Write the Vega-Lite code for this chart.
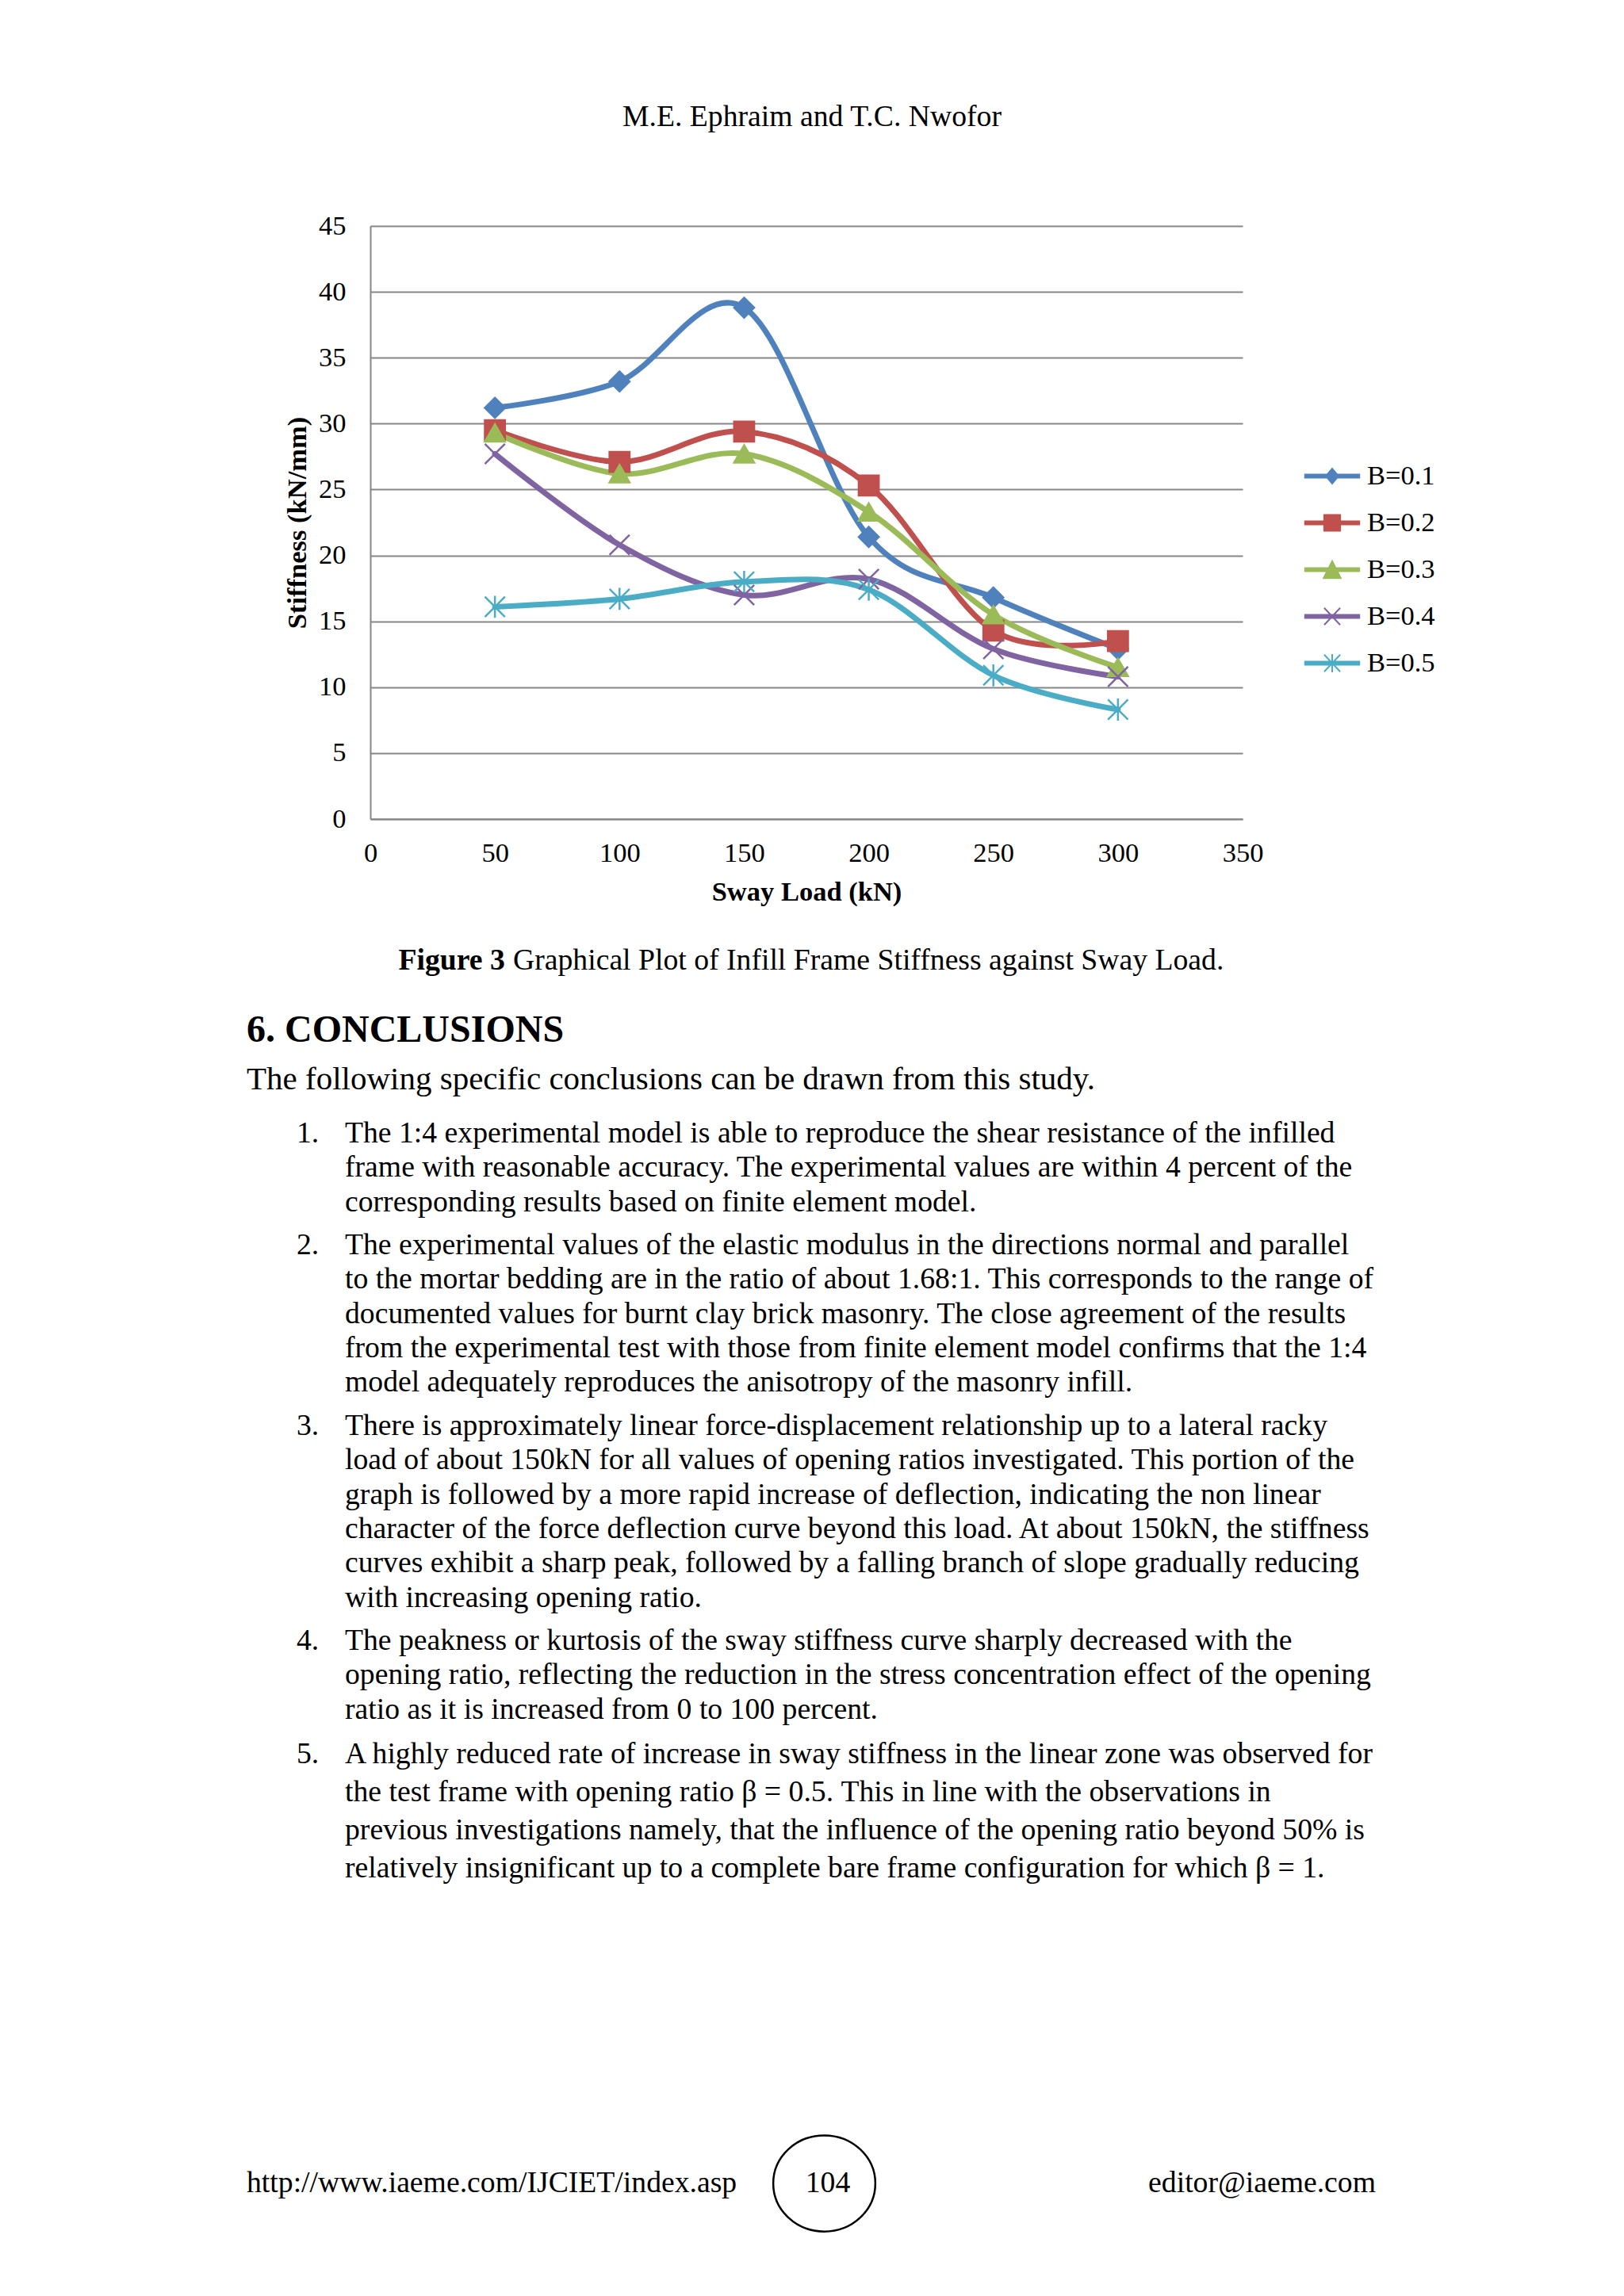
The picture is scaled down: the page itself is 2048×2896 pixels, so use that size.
{
  "$schema": "https://vega.github.io/schema/vega-lite/v6.json",
  "background": "white",
  "padding": {"left": 311, "top": 0, "right": 5, "bottom": 0},
  "bounds": "flush",
  "spacing": 0,
  "config": {
    "view": {"stroke": "transparent"},
    "font": "Liberation Serif",
    "text": {"font": "Liberation Serif", "color": "black"},
    "point": {"filled": true, "size": 640, "strokeWidth": 2.5, "opacity": 1}
  },
  "datasets": {
    "stiffness": [
      {"load": 50, "series": "B=0.1", "stiffness": 31.2},
      {"load": 100, "series": "B=0.1", "stiffness": 33.2},
      {"load": 150, "series": "B=0.1", "stiffness": 38.8},
      {"load": 200, "series": "B=0.1", "stiffness": 21.4},
      {"load": 250, "series": "B=0.1", "stiffness": 16.8},
      {"load": 300, "series": "B=0.1", "stiffness": 12.9},
      {"load": 50, "series": "B=0.2", "stiffness": 29.5},
      {"load": 100, "series": "B=0.2", "stiffness": 27.1},
      {"load": 150, "series": "B=0.2", "stiffness": 29.4},
      {"load": 200, "series": "B=0.2", "stiffness": 25.3},
      {"load": 250, "series": "B=0.2", "stiffness": 14.3},
      {"load": 300, "series": "B=0.2", "stiffness": 13.5},
      {"load": 50, "series": "B=0.3", "stiffness": 29.3},
      {"load": 100, "series": "B=0.3", "stiffness": 26.2},
      {"load": 150, "series": "B=0.3", "stiffness": 27.7},
      {"load": 200, "series": "B=0.3", "stiffness": 23.3},
      {"load": 250, "series": "B=0.3", "stiffness": 15.5},
      {"load": 300, "series": "B=0.3", "stiffness": 11.5},
      {"load": 50, "series": "B=0.4", "stiffness": 27.7},
      {"load": 100, "series": "B=0.4", "stiffness": 20.8},
      {"load": 150, "series": "B=0.4", "stiffness": 17.0},
      {"load": 200, "series": "B=0.4", "stiffness": 18.2},
      {"load": 250, "series": "B=0.4", "stiffness": 12.9},
      {"load": 300, "series": "B=0.4", "stiffness": 10.8},
      {"load": 50, "series": "B=0.5", "stiffness": 16.1},
      {"load": 100, "series": "B=0.5", "stiffness": 16.7},
      {"load": 150, "series": "B=0.5", "stiffness": 18.0},
      {"load": 200, "series": "B=0.5", "stiffness": 17.4},
      {"load": 250, "series": "B=0.5", "stiffness": 10.9},
      {"load": 300, "series": "B=0.5", "stiffness": 8.3}
    ],
    "conclusions": [
      {"item": 1, "line": 1, "num": "1.", "text": "The 1:4 experimental model is able to reproduce the shear resistance of the infilled"},
      {"item": 1, "line": 2, "num": "", "text": "frame with reasonable accuracy. The experimental values are within 4 percent of the"},
      {"item": 1, "line": 3, "num": "", "text": "corresponding results based on finite element model."},
      {"item": 2, "line": 1, "num": "2.", "text": "The experimental values of the elastic modulus in the directions normal and parallel"},
      {"item": 2, "line": 2, "num": "", "text": "to the mortar bedding are in the ratio of about 1.68:1. This corresponds to the range of"},
      {"item": 2, "line": 3, "num": "", "text": "documented values for burnt clay brick masonry. The close agreement of the results"},
      {"item": 2, "line": 4, "num": "", "text": "from the experimental test with those from finite element model confirms that the 1:4"},
      {"item": 2, "line": 5, "num": "", "text": "model adequately reproduces the anisotropy of the masonry infill."},
      {"item": 3, "line": 1, "num": "3.", "text": "There is approximately linear force-displacement relationship up to a lateral racky"},
      {"item": 3, "line": 2, "num": "", "text": "load of about 150kN for all values of opening ratios investigated. This portion of the"},
      {"item": 3, "line": 3, "num": "", "text": "graph is followed by a more rapid increase of deflection, indicating the non linear"},
      {"item": 3, "line": 4, "num": "", "text": "character of the force deflection curve beyond this load. At about 150kN, the stiffness"},
      {"item": 3, "line": 5, "num": "", "text": "curves exhibit a sharp peak, followed by a falling branch of slope gradually reducing"},
      {"item": 3, "line": 6, "num": "", "text": "with increasing opening ratio."},
      {"item": 4, "line": 1, "num": "4.", "text": "The peakness or kurtosis of the sway stiffness curve sharply decreased with the"},
      {"item": 4, "line": 2, "num": "", "text": "opening ratio, reflecting the reduction in the stress concentration effect of the opening"},
      {"item": 4, "line": 3, "num": "", "text": "ratio as it is increased from 0 to 100 percent."},
      {"item": 5, "line": 1, "num": "5.", "text": "A highly reduced rate of increase in sway stiffness in the linear zone was observed for"},
      {"item": 5, "line": 2, "num": "", "text": "the test frame with opening ratio β = 0.5. This in line with the observations in"},
      {"item": 5, "line": 3, "num": "", "text": "previous investigations namely, that the influence of the opening ratio beyond 50% is"},
      {"item": 5, "line": 4, "num": "", "text": "relatively insignificant up to a complete bare frame configuration for which β = 1."}
    ]
  },
  "vconcat": [
    {
      "width": 1114,
      "height": 285,
      "data": {"values": [{"text": "M.E. Ephraim and T.C. Nwofor"}]},
      "mark": {"type": "text", "fontSize": 37.7, "align": "center", "baseline": "middle", "dy": 5.5},
      "encoding": {"text": {"field": "text"}}
    },
    {
      "width": 1100,
      "height": 748,
      "data": {"name": "stiffness"},
      "encoding": {
        "x": {
          "field": "load",
          "type": "quantitative",
          "scale": {"domain": [0, 350], "nice": false},
          "axis": {
            "values": [0, 50, 100, 150, 200, 250, 300, 350],
            "grid": false,
            "ticks": false,
            "domainColor": "#868686",
            "domainWidth": 2,
            "labelFont": "Liberation Serif",
            "labelFontSize": 34.5,
            "labelColor": "black",
            "labelPadding": 26,
            "labelFlush": false,
            "labelOverlap": false,
            "title": "Sway Load (kN)",
            "titleFont": "Liberation Serif",
            "titleFontSize": 34.5,
            "titleFontWeight": "bold",
            "titleColor": "black",
            "titlePadding": 16
          }
        },
        "y": {
          "field": "stiffness",
          "type": "quantitative",
          "scale": {"domain": [0, 45], "nice": false},
          "axis": {
            "values": [0, 5, 10, 15, 20, 25, 30, 35, 40, 45],
            "grid": true,
            "gridColor": "#868686",
            "gridWidth": 2,
            "ticks": false,
            "domainColor": "#868686",
            "domainWidth": 2,
            "labelFont": "Liberation Serif",
            "labelFontSize": 34.5,
            "labelColor": "black",
            "labelPadding": 31,
            "labelFlush": false,
            "labelOverlap": false,
            "title": "Stiffness (kN/mm)",
            "titleFont": "Liberation Serif",
            "titleFontSize": 34.5,
            "titleFontWeight": "bold",
            "titleColor": "black",
            "titlePadding": 9
          }
        },
        "color": {
          "field": "series",
          "type": "nominal",
          "scale": {
            "domain": ["B=0.1", "B=0.2", "B=0.3", "B=0.4", "B=0.5"],
            "range": ["#4F81BD", "#C0504D", "#9BBB59", "#8064A2", "#4BACC6"]
          },
          "legend": {
            "orient": "none",
            "legendX": 1176,
            "legendY": 572,
            "title": null,
            "padding": 0,
            "symbolSize": 5184,
            "symbolStrokeWidth": 2,
            "labelFont": "Liberation Serif",
            "labelFontSize": 34.5,
            "labelColor": "black",
            "labelOffset": 7,
            "clipHeight": 57,
            "rowPadding": 2,
            "encode": {
              "symbols": {
                "update": {
                  "shape": {"signal": "datum.value === 'B=0.1' ? 'M-0.95,-0.055H0.95V0.055H-0.95ZM0,-0.26L0.22,0L0,0.26L-0.22,0Z' : datum.value === 'B=0.2' ? 'M-0.95,-0.055H0.95V0.055H-0.95ZM-0.28,-0.28H0.28V0.28H-0.28Z' : datum.value === 'B=0.3' ? 'M-0.95,-0.055H0.95V0.055H-0.95ZM0,-0.3L0.3,0.3H-0.3Z' : datum.value === 'B=0.4' ? 'M-0.95,-0.055H0.95V0.055H-0.95ZM-0.28,-0.3L0.28,0.3M-0.28,0.3L0.28,-0.3' : 'M-0.95,-0.055H0.95V0.055H-0.95ZM-0.28,-0.3L0.28,0.3M-0.28,0.3L0.28,-0.3M0,-0.32V0.32'"},
                  "fill": {"signal": "scale('color', datum.value)"},
                  "stroke": {"signal": "scale('color', datum.value)"},
                  "strokeWidth": {"value": 2},
                  "opacity": {"value": 1}
                }
              }
            }
          }
        }
      },
      "layer": [
        {
          "mark": {"type": "line", "interpolate": "cardinal", "strokeWidth": 7, "strokeCap": "round", "strokeJoin": "round"}
        },
        {
          "transform": [{"filter": "datum.series === 'B=0.1'"}],
          "mark": {"type": "point", "shape": "diamond", "stroke": "#4F81BD"}
        },
        {
          "transform": [{"filter": "datum.series === 'B=0.2'"}],
          "mark": {"type": "point", "shape": "square", "stroke": "#C0504D"}
        },
        {
          "transform": [{"filter": "datum.series === 'B=0.3'"}],
          "mark": {"type": "point", "shape": "triangle-up", "stroke": "#9BBB59"}
        },
        {
          "transform": [{"filter": "datum.series === 'B=0.4'"}],
          "mark": {"type": "point", "shape": "M-1,-1L1,1M-1,1L1,-1", "stroke": "#8064A2"}
        },
        {
          "transform": [{"filter": "datum.series === 'B=0.5'"}],
          "mark": {"type": "point", "shape": "M-1,-1L1,1M-1,1L1,-1M0,-1.1V1.1", "stroke": "#4BACC6"}
        }
      ]
    },
    {
      "width": 1114,
      "height": 223,
      "data": {"values": [{"label": "Figure 3", "caption": "Graphical Plot of Infill Frame Stiffness against Sway Load."}]},
      "layer": [
        {
          "mark": {"type": "text", "fontSize": 37.7, "fontWeight": "bold", "align": "left", "baseline": "middle", "dx": -521.5, "dy": 67.5},
          "encoding": {"text": {"field": "label"}}
        },
        {
          "mark": {"type": "text", "fontSize": 37.7, "align": "left", "baseline": "middle", "dx": -377, "dy": 67.5},
          "encoding": {"text": {"field": "caption"}}
        }
      ]
    },
    {
      "width": 1114,
      "height": 88,
      "data": {"values": [{"text": "6. CONCLUSIONS"}]},
      "mark": {"type": "text", "fontSize": 48, "fontWeight": "bold", "align": "left", "baseline": "middle", "dx": -713},
      "encoding": {"text": {"field": "text"}}
    },
    {
      "width": 1114,
      "height": 58.2,
      "data": {"values": [{"text": "The following specific conclusions can be drawn from this study."}]},
      "mark": {"type": "text", "fontSize": 41, "align": "left", "baseline": "middle", "dx": -713, "dy": -11.1},
      "encoding": {"text": {"field": "text"}}
    },
    {
      "width": 1114,
      "height": 140.4,
      "data": {"name": "conclusions"},
      "transform": [{"filter": "datum.item == 1"}],
      "encoding": {"y": {"field": "line", "type": "ordinal", "scale": {"type": "point", "padding": 0.6175}, "axis": null}},
      "layer": [
        {"mark": {"type": "text", "fontSize": 37.7, "align": "left", "baseline": "middle", "dx": -650}, "encoding": {"text": {"field": "num"}}},
        {"mark": {"type": "text", "fontSize": 37.7, "align": "left", "baseline": "middle", "dx": -589}, "encoding": {"text": {"field": "text"}}}
      ]
    },
    {
      "width": 1114,
      "height": 227.2,
      "data": {"name": "conclusions"},
      "transform": [{"filter": "datum.item == 2"}],
      "encoding": {"y": {"field": "line", "type": "ordinal", "scale": {"type": "point", "padding": 0.6175}, "axis": null}},
      "layer": [
        {"mark": {"type": "text", "fontSize": 37.7, "align": "left", "baseline": "middle", "dx": -650}, "encoding": {"text": {"field": "num"}}},
        {"mark": {"type": "text", "fontSize": 37.7, "align": "left", "baseline": "middle", "dx": -589}, "encoding": {"text": {"field": "text"}}}
      ]
    },
    {
      "width": 1114,
      "height": 270.6,
      "data": {"name": "conclusions"},
      "transform": [{"filter": "datum.item == 3"}],
      "encoding": {"y": {"field": "line", "type": "ordinal", "scale": {"type": "point", "padding": 0.6175}, "axis": null}},
      "layer": [
        {"mark": {"type": "text", "fontSize": 37.7, "align": "left", "baseline": "middle", "dx": -650}, "encoding": {"text": {"field": "num"}}},
        {"mark": {"type": "text", "fontSize": 37.7, "align": "left", "baseline": "middle", "dx": -589}, "encoding": {"text": {"field": "text"}}}
      ]
    },
    {
      "width": 1114,
      "height": 140.4,
      "data": {"name": "conclusions"},
      "transform": [{"filter": "datum.item == 4"}],
      "encoding": {"y": {"field": "line", "type": "ordinal", "scale": {"type": "point", "padding": 0.6175}, "axis": null}},
      "layer": [
        {"mark": {"type": "text", "fontSize": 37.7, "align": "left", "baseline": "middle", "dx": -650}, "encoding": {"text": {"field": "num"}}},
        {"mark": {"type": "text", "fontSize": 37.7, "align": "left", "baseline": "middle", "dx": -589}, "encoding": {"text": {"field": "text"}}}
      ]
    },
    {
      "width": 1114,
      "height": 202.2,
      "data": {"name": "conclusions"},
      "transform": [{"filter": "datum.item == 5"}],
      "encoding": {"y": {"field": "line", "type": "ordinal", "scale": {"type": "point", "padding": 0.6085}, "axis": null}},
      "layer": [
        {"mark": {"type": "text", "fontSize": 37.7, "align": "left", "baseline": "middle", "dx": -650}, "encoding": {"text": {"field": "num"}}},
        {"mark": {"type": "text", "fontSize": 37.7, "align": "left", "baseline": "middle", "dx": -589}, "encoding": {"text": {"field": "text"}}}
      ]
    },
    {
      "width": 1114,
      "height": 513,
      "data": {"values": [{"url": "http://www.iaeme.com/IJCIET/index.asp", "page": "104", "email": "editor@iaeme.com"}]},
      "layer": [
        {"mark": {"type": "text", "fontSize": 37.7, "align": "left", "baseline": "middle", "dx": -713, "dy": 110}, "encoding": {"text": {"field": "url"}}},
        {"mark": {"type": "text", "fontSize": 37.7, "align": "center", "baseline": "middle", "dx": 20, "dy": 110}, "encoding": {"text": {"field": "page"}}},
        {"mark": {"type": "text", "fontSize": 37.7, "align": "right", "baseline": "middle", "dx": 711, "dy": 110}, "encoding": {"text": {"field": "email"}}},
        {"mark": {"type": "point", "shape": "M-1.03,0A1.03,0.97 0 1,0 1.03,0A1.03,0.97 0 1,0 -1.03,0Z", "size": 15625, "filled": false, "color": "black", "strokeWidth": 2.5, "opacity": 1, "xOffset": 15.5, "yOffset": 110.5}}
      ]
    }
  ]
}
